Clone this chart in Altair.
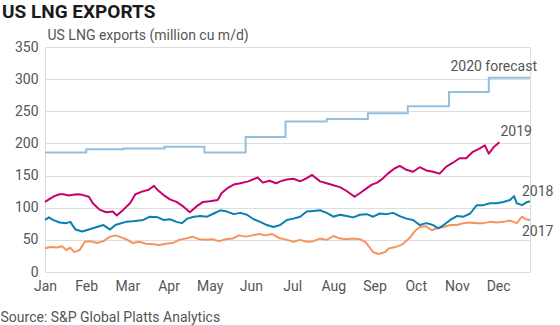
import altair as alt
import pandas as pd

# ---------------- data ----------------
months = ["Jan", "Feb", "Mar", "Apr", "May", "Jun", "Jul", "Aug", "Sep", "Oct", "Nov", "Dec"]
label_days = [0, 31, 62, 93, 124, 155, 186, 217, 248, 279, 310, 341]
y_ticks = [0, 50, 100, 150, 200, 250, 300, 350]

forecast_days = [0, 31, 59, 90, 120, 151, 181, 212, 243, 273, 304, 334, 365]
forecast_vals = [186, 191, 192, 195, 186, 210, 234, 238, 247, 258, 280, 302, 302]

days_2019 = [0, 3, 7, 11, 14, 18, 21, 25, 28, 33, 36, 41, 46, 51, 54, 59, 64, 68, 73, 78,
             82, 85, 89, 94, 99, 104, 109, 114, 119, 124, 130, 133, 137, 142, 147, 153, 160,
             164, 169, 174, 177, 182, 187, 192, 197, 201, 207, 212, 217, 222, 227, 233, 238,
             242, 246, 250, 254, 258, 263, 267, 272, 277, 282, 287, 292, 297, 302, 307, 312,
             317, 322, 327, 331, 334, 338, 342]
vals_2019 = [109, 113, 118, 121, 121, 119, 120, 121, 120, 117, 107, 97, 93, 94, 88, 97, 107,
             121, 125, 128, 134, 127, 120, 113, 109, 102, 93, 102, 109, 110, 112, 123, 130,
             136, 138, 141, 147, 139, 142, 138, 141, 144, 145, 141, 146, 151, 141, 138, 135,
             132, 126, 117, 124, 130, 136, 139, 145, 153, 161, 165, 159, 156, 163, 158, 156,
             153, 164, 170, 177, 177, 187, 192, 197, 184, 195, 202]

days_2018 = [0, 3, 6, 11, 16, 19, 23, 28, 33, 39, 44, 49, 53, 56, 61, 66, 74, 79, 85, 89,
             94, 99, 103, 107, 112, 117, 122, 127, 132, 137, 142, 147, 152, 157, 162, 167,
             172, 177, 182, 187, 192, 197, 202, 207, 212, 217, 222, 227, 232, 237, 242, 247,
             252, 257, 262, 267, 272, 277, 282, 287, 292, 296, 300, 305, 310, 315, 320, 325,
             330, 335, 340, 345, 350, 353, 355, 359, 362, 365]
vals_2018 = [81, 85, 81, 77, 76, 78, 66, 63, 66, 70, 73, 66, 73, 75, 78, 79, 81, 86, 85, 81,
             82, 78, 76, 83, 86, 87, 86, 91, 96, 94, 90, 92, 89, 82, 78, 73, 70, 73, 81, 83,
             86, 94, 95, 96, 92, 86, 89, 87, 85, 89, 90, 86, 91, 90, 92, 87, 83, 81, 73, 76,
             73, 68, 73, 81, 87, 86, 91, 104, 104, 107, 107, 109, 112, 118, 107, 104, 108, 110]

days_2017 = [0, 4, 9, 13, 16, 19, 22, 26, 30, 34, 39, 44, 49, 53, 56, 61, 66, 71, 76, 81,
             86, 91, 96, 101, 106, 111, 116, 121, 126, 131, 136, 141, 146, 151, 156, 161,
             166, 171, 176, 182, 187, 192, 197, 202, 207, 212, 217, 222, 227, 232, 237, 241,
             244, 247, 251, 256, 259, 264, 269, 274, 279, 282, 287, 291, 295, 300, 305, 310,
             315, 320, 325, 330, 335, 340, 345, 350, 355, 359, 362, 365]
vals_2017 = [37, 39, 38, 40, 34, 38, 31, 34, 47, 48, 45, 48, 55, 57, 55, 51, 45, 47, 44, 43,
             42, 44, 45, 50, 52, 55, 51, 50, 51, 48, 51, 52, 57, 55, 57, 59, 57, 59, 53, 50,
             47, 50, 47, 48, 52, 50, 56, 52, 51, 52, 51, 47, 39, 31, 28, 31, 37, 39, 43, 52,
             65, 70, 71, 65, 68, 70, 73, 73, 76, 77, 76, 76, 78, 77, 78, 80, 76, 86, 82, 81]

series_names = ["2020 forecast", "2019", "2018", "2017"]
series_colors = ["#94c0df", "#c8006e", "#0a7fb0", "#f5945f"]

# ---------------- tables ----------------
forecast_df = pd.DataFrame({"day": forecast_days, "value": forecast_vals, "series": "2020 forecast"})
actual_df = pd.concat([
    pd.DataFrame({"day": days_2017, "value": vals_2017, "series": "2017"}),
    pd.DataFrame({"day": days_2018, "value": vals_2018, "series": "2018"}),
    pd.DataFrame({"day": days_2019, "value": vals_2019, "series": "2019"}),
], ignore_index=True)
all_df = pd.concat([forecast_df, actual_df], ignore_index=True)
last_df = all_df.groupby("series", as_index=False).last()

FONT = "Roboto"
TXT = "#555555"

month_js = "[" + ",".join(f"'{m}'" for m in months) + "]"

x_enc = alt.X(
    "day:Q",
    scale=alt.Scale(domain=[0, 365], nice=False, zero=False),
    axis=alt.Axis(
        values=label_days,
        labelExpr=f"{month_js}[round(datum.value/31)]",
        labelFlush=False, labelOverlap=False,
        grid=False, domain=False, ticks=False, labelPadding=7,
        labelFontSize=14, labelColor=TXT, labelFont=FONT,
        title="Source: S&P Global Platts Analytics",
        titleFont=FONT, titleFontSize=14, titleFontWeight="normal", titleColor=TXT,
        titleAnchor="start", titleAlign="left", titleBaseline="middle",
        titleX=-45, titleY=45,
    ),
)
y_enc = alt.Y(
    "value:Q",
    scale=alt.Scale(domain=[0, 350], nice=False),
    axis=alt.Axis(
        values=y_ticks, tickCount=8,
        labelOverlap=False, labelFlush=False,
        grid=True, gridColor="#dedede", gridWidth=1.2,
        domain=False, ticks=False, labelPadding=7,
        labelFontSize=14, labelColor=TXT, labelFont=FONT,
        title="US LNG exports (million cu m/d)",
        titleFont=FONT, titleFontSize=14, titleFontWeight="normal", titleColor=TXT,
        titleAngle=0, titleAlign="left", titleBaseline="middle",
        titleX=2, titleY=-12,
    ),
)

forecast_line = alt.Chart(forecast_df).mark_line(
    interpolate="step-after", strokeWidth=2, color=series_colors[0]
).encode(x=x_enc, y=y_enc)

actual_lines = alt.Chart(actual_df).mark_line(strokeWidth=2, strokeJoin="round").encode(
    x=x_enc,
    y=y_enc,
    color=alt.Color("series:N", scale=alt.Scale(domain=series_names, range=series_colors), legend=None),
    order=alt.Order("day:Q"),
    detail="series:N",
)


def end_label(name, align, dx, dy):
    return alt.Chart(last_df).transform_filter(alt.datum.series == name).mark_text(
        align=align, baseline="middle", dx=dx, dy=dy,
        font=FONT, fontSize=14, color=TXT,
    ).encode(x=x_enc, y=y_enc, text="series:N")


labels = [
    end_label("2020 forecast", "right", 7, -11),
    end_label("2019", "left", 1, -10),
    end_label("2018", "left", -8, -9),
    end_label("2017", "left", -8, 12),
]

chart = alt.layer(forecast_line, actual_lines, *labels).properties(
    width=485,
    height=225,
    autosize=alt.AutoSizeParams(type="none"),
    padding={"left": 45, "top": 47, "right": 30, "bottom": 53},
    title=alt.TitleParams(
        "US LNG EXPORTS", anchor="start", frame="group", dx=-43, offset=6,
        font=FONT, fontSize=19, fontWeight="bold", color="#1a1a1a",
    ),
).configure_view(stroke=None).configure(background="white")

chart.save("out.html", embed_options={"renderer": "svg", "actions": False})
